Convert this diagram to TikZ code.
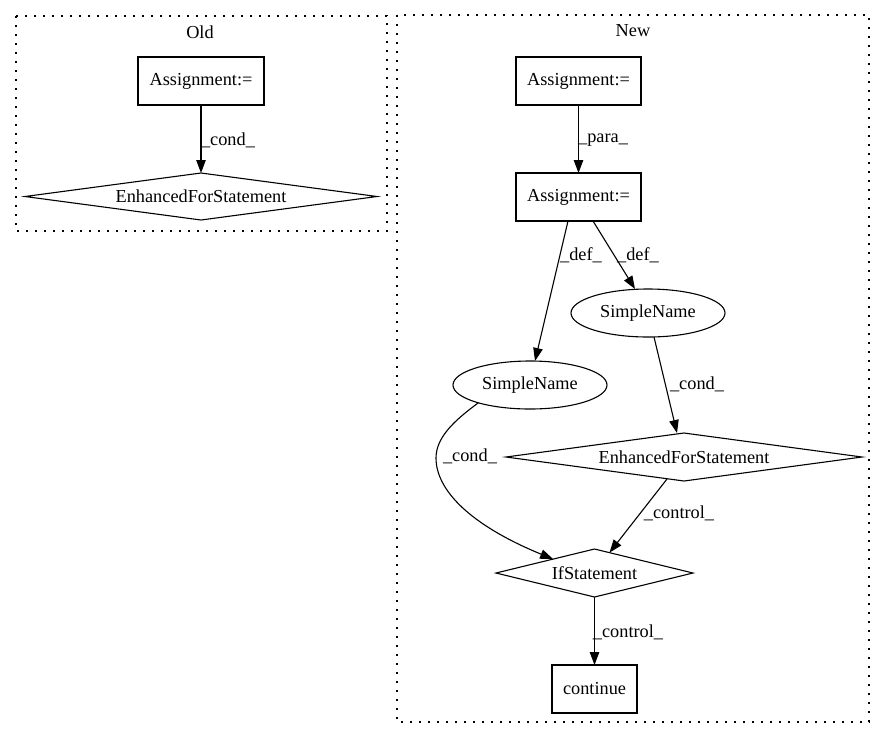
\documentclass[tikz,border=0pt]{standalone}
\usepackage{fontspec}
\setmainfont{Liberation Serif}
\usetikzlibrary{shapes.geometric,arrows.meta,calc}
\tikzset{
  every node/.style={font=\fontsize{18.3}{21}\selectfont, outer sep=0pt, inner sep=0pt},
  boxnode/.style={draw, line width=1.1pt, rectangle, minimum height=48pt},
  diamnode/.style={draw, line width=1.1pt, diamond, aspect=6},
  ellnode/.style={draw, line width=1.1pt, ellipse, minimum width=154pt, minimum height=48pt},
  cluster/.style={draw, line width=1.1pt, dash pattern=on 1.6pt off 7.4pt},
  edge/.style={draw, line width=1.1pt, -{Triangle[length=13pt,width=9.5pt]}},
  lbl/.style={anchor=center}
}
\begin{document}
\begin{tikzpicture}[x=1pt,y=-1pt]
\useasboundingbox (0,0) rectangle (885,740);
% clusters
\draw[cluster] (16,16) rectangle (387,231);
\draw[cluster] (397,15) rectangle (869,722);
\node (toldtitle) at (200,32) {Old};
\node (tnewtitle) at (633,31) {New};
% Old
\node[boxnode, minimum width=126pt] (oa) at (201,81) {Assignment:=};
\node[diamnode, minimum width=352pt, minimum height=47pt] (oe) at (201,196.5) {EnhancedForStatement};
% New
\node[boxnode, minimum width=125pt] (na1) at (578.5,81) {Assignment:=};
\node[boxnode, minimum width=125pt] (na2) at (578.5,197) {Assignment:=};
\node[ellnode] (sr) at (648,313) {SimpleName};
\node[ellnode] (sl) at (530,385) {SimpleName};
\node[diamnode, minimum width=356pt, minimum height=48pt] (efs) at (684,457) {EnhancedForStatement};
\node[diamnode, minimum width=197pt, minimum height=48pt] (ifs) at (594.5,573) {IfStatement};
\node[boxnode, minimum width=85pt] (cont) at (594.5,689) {continue};
% edges
\draw[edge] (oa.south) -- (oe.north);
\node[lbl] (l1) at (228,140) {\_cond\_};
\draw[edge] (na1.south) -- (na2.north);
\node[lbl] (l2) at (603,140) {\_para\_};
\draw[edge] ([xshift=-10.5pt]na2.south) -- ([xshift=5pt]sl.north);
\node[lbl] (l3) at (581,255) {\_def\_};
\draw[edge] ([xshift=14.5pt]na2.south) -- ([xshift=-13pt]sr.north);
\node[lbl] (l4) at (638,255) {\_def\_};
\draw[edge] ([xshift=6pt]sr.south) -- ([xshift=-7pt]efs.north);
\node[lbl] (l5) at (697,384) {\_cond\_};
\draw[edge] (sl.199) .. controls (455,420) and (436,437) .. (436,458)
  .. controls (436,490) and (470,525) .. ($(ifs.west)!0.58!(ifs.north)$);
\node[lbl] (l6) at (470,456) {\_cond\_};
\draw[edge] ($(efs.south)+(-17,-2)$) -- ($(ifs.north)+(15,3.6)$);
\node[lbl] (l7) at (679,513) {\_control\_};
\draw[edge] (ifs.south) -- (cont.north);
\node[lbl] (l8) at (628,632) {\_control\_};
\end{tikzpicture}
\end{document}
